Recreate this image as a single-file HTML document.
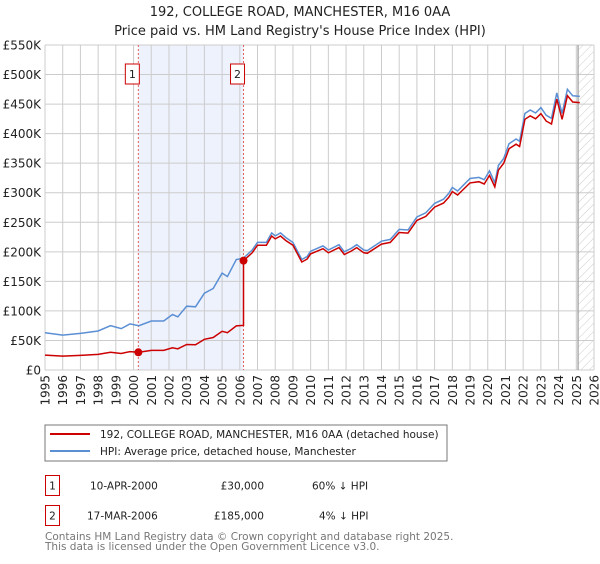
<!DOCTYPE html>
<html><head><meta charset="utf-8"><style>
body{margin:0;background:#fff;font-family:"DejaVu Sans","Liberation Sans",sans-serif;}
svg text{font-family:"DejaVu Sans","Liberation Sans",sans-serif;}
</style></head><body>
<svg id="c" width="600" height="560" xmlns="http://www.w3.org/2000/svg">
<defs><pattern id="hatch" width="6" height="6" patternUnits="userSpaceOnUse" patternTransform="rotate(45)"><line x1="0" y1="0" x2="0" y2="6" stroke="#ccc" stroke-width="1"/></pattern></defs>
<text x="300" y="16" text-anchor="middle" font-size="13" fill="#222">192, COLLEGE ROAD, MANCHESTER, M16 0AA</text>
<text x="300" y="35" text-anchor="middle" font-size="13" fill="#222">Price paid vs. HM Land Registry's House Price Index (HPI)</text>
<g id="plot"></g>
<rect x="45" y="425" width="402" height="36" fill="#fff" stroke="#777"/>
<line x1="50" y1="434" x2="90" y2="434" stroke="#cc0000" stroke-width="2"/>
<text x="100" y="438" font-size="10.5" fill="#222">192, COLLEGE ROAD, MANCHESTER, M16 0AA (detached house)</text>
<line x1="50" y1="451" x2="90" y2="451" stroke="#5b8fd4" stroke-width="2"/>
<text x="100" y="455" font-size="10.5" fill="#222">HPI: Average price, detached house, Manchester</text>
<g>
<rect x="45.5" y="475.5" width="14" height="20" fill="#fff" stroke="#cc0000"/>
<text x="52.5" y="489.5" text-anchor="middle" font-size="10.5" fill="#222">1</text>
<text x="90" y="489.5" font-size="10.5" fill="#222">10-APR-2000</text>
<text x="264" y="489.5" text-anchor="end" font-size="10.5" fill="#222">£30,000</text>
<text x="312" y="489.5" font-size="10.5" fill="#222">60% ↓ HPI</text></g>
<g>
<rect x="45.5" y="505.5" width="14" height="20" fill="#fff" stroke="#cc0000"/>
<text x="52.5" y="519.5" text-anchor="middle" font-size="10.5" fill="#222">2</text>
<text x="87" y="519.5" font-size="10.5" fill="#222">17-MAR-2006</text>
<text x="264" y="519.5" text-anchor="end" font-size="10.5" fill="#222">£185,000</text>
<text x="319" y="519.5" font-size="10.5" fill="#222">4% ↓ HPI</text></g>
<text x="45" y="540" font-size="10.5" fill="#777">Contains HM Land Registry data © Crown copyright and database right 2025.</text>
<text x="45" y="550" font-size="10.5" fill="#777">This data is licensed under the Open Government Licence v3.0.</text>
</svg>
<script>
const hpiYears=[1995,1996,1997,1998,1998.7,1999.3,1999.8,2000.3,2001,2001.7,2002.2,2002.5,2003,2003.5,2004,2004.5,2005,2005.3,2005.8,2006.2,2006.7,2007,2007.5,2007.8,2008,2008.3,2008.6,2009,2009.5,2009.8,2010,2010.7,2011,2011.6,2011.9,2012.3,2012.6,2013,2013.2,2014,2014.5,2015,2015.5,2016,2016.5,2017,2017.5,2017.8,2018,2018.3,2019,2019.5,2019.8,2020.1,2020.4,2020.6,2020.9,2021.2,2021.6,2021.8,2022.1,2022.4,2022.7,2023,2023.3,2023.6,2023.9,2024.2,2024.5,2024.8,2025.2];
const hpiValues=[63,59,62,66,75,70,78,75,83,83,94,90,108,107,130,138,164,158,187,189,203,216,216,232,227,232,224,216,187,192,201,210,203,212,200,206,212,203,202,218,221,238,237,259,266,282,289,299,309,303,324,326,322,337,317,346,358,383,391,387,434,440,435,444,431,426,469,434,475,464,463];
const saleYears=[2000.27,2006.21];
const salePrices=[30,185];
const saleLabels=["1","2"];
const yTicks=[0,50,100,150,200,250,300,350,400,450,500,550];
const xTicks=[1995,1996,1997,1998,1999,2000,2001,2002,2003,2004,2005,2006,2007,2008,2009,2010,2011,2012,2013,2014,2015,2016,2017,2018,2019,2020,2021,2022,2023,2024,2025,2026];
const X0=45,X1=594,Y0=370,Y1=45,dataEnd=2025.1;
const xs=y=>X0+(y-1995)/(2026-1995)*(X1-X0);
const ys=v=>Y0-v/550*(Y0-Y1);
const NS="http://www.w3.org/2000/svg";
const g=document.getElementById('plot');
function mk(t,a){const e=document.createElementNS(NS,t);for(const k in a)e.setAttribute(k,a[k]);g.appendChild(e);return e;}
function hpiAt(t){for(let i=0;i<hpiYears.length-1;i++){if(t<=hpiYears[i+1]){const f=(t-hpiYears[i])/(hpiYears[i+1]-hpiYears[i]);return hpiValues[i]+f*(hpiValues[i+1]-hpiValues[i]);}}return hpiValues[hpiValues.length-1];}
let e=mk('rect',{x:xs(saleYears[0]),y:Y1,width:xs(saleYears[1])-xs(saleYears[0]),height:Y0-Y1,fill:'#eef2fd'});


e=mk('rect',{x:xs(dataEnd),y:Y1,width:X1-xs(dataEnd),height:Y0-Y1,fill:'url(#hatch)'});


yTicks.forEach(v=>{
 let l=mk('line',{x1:X0,x2:X1,y1:ys(v),y2:ys(v),stroke:'#ccc','stroke-width':1});
 
 
 let t=mk('text',{x:X0-4,y:ys(v)+4.5,'text-anchor':'end','font-size':12,fill:'#222'});
 t.textContent=v===0?'£0':'£'+v+'K';
 
 
});
xTicks.forEach(y=>{
 let l=mk('line',{x1:xs(y),x2:xs(y),y1:Y1,y2:Y0,stroke:'#ccc','stroke-width':1});
 
 
 let t=mk('text',{x:0,y:0,'text-anchor':'end','font-size':12,fill:'#222',transform:`translate(${xs(y)+4.5},${Y0+5}) rotate(-90)`});
 t.textContent=y;
 
 
});
e=mk('line',{x1:xs(dataEnd),x2:xs(dataEnd),y1:Y1,y2:Y0,stroke:'#999','stroke-width':1.2});


saleYears.forEach((s,i)=>{
 let l=mk('line',{x1:xs(s),x2:xs(s),y1:Y1,y2:Y0,stroke:'#e06060','stroke-width':1,'stroke-dasharray':'2,2'});
 
 
 let r=mk('rect',{x:xs(s)-13,y:64,width:14,height:20,fill:'#fff',stroke:'#cc0000'});
 
 
 let t=mk('text',{x:xs(s)-6,y:78,'text-anchor':'middle','font-size':11,fill:'#222'});
 t.textContent=saleLabels[i];
 
 
});
let hp=hpiYears.map((y,i)=>`${xs(y).toFixed(1)},${ys(hpiValues[i]).toFixed(1)}`).join(' ');
e=mk('polyline',{points:hp,fill:'none',stroke:'#5b8fd4','stroke-width':1.5});


let rp=[];
hpiYears.forEach(y=>{
 let v;
 if(y<saleYears[1]) v=salePrices[0]*hpiAt(y)/hpiAt(saleYears[0]);
 else v=salePrices[1]*hpiAt(y)/hpiAt(saleYears[1]);
 if(y>saleYears[0]&&rp.length&&!rp.s0){rp.push([saleYears[0],salePrices[0]]);rp.s0=1;}
 if(y>saleYears[1]&&!rp.s1){rp.push([saleYears[1],salePrices[0]*hpiAt(saleYears[1])/hpiAt(saleYears[0])]);rp.push([saleYears[1],salePrices[1]]);rp.s1=1;}
 rp.push([y,v]);
});
e=mk('polyline',{points:rp.map(p=>`${xs(p[0]).toFixed(1)},${ys(p[1]).toFixed(1)}`).join(' '),fill:'none',stroke:'#cc0000','stroke-width':1.5});


saleYears.forEach((s,i)=>{
 let c=mk('circle',{cx:xs(s),cy:ys(salePrices[i]),r:4,fill:'#cc0000'});
 
 
});
</script>
</body></html>
